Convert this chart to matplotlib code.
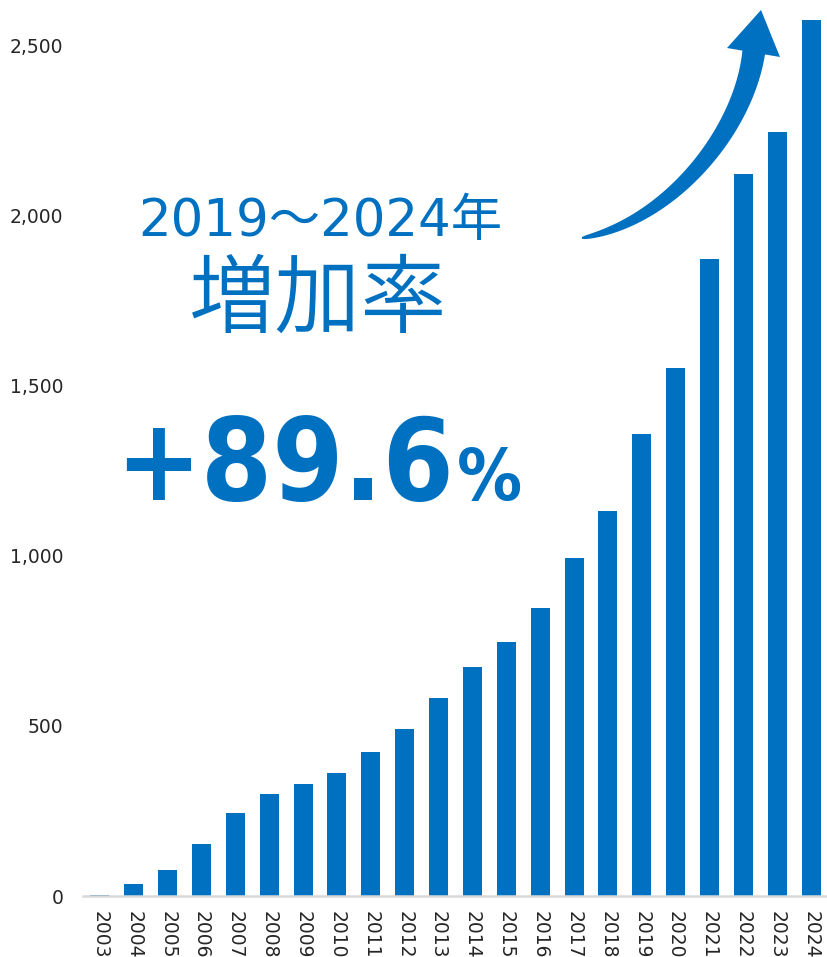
import numpy as np
import matplotlib.pyplot as plt
from matplotlib.patches import Polygon
from matplotlib.transforms import Affine2D

years = [str(y) for y in range(2003, 2025)]
values = [3, 35, 76, 153, 244, 300, 329, 362, 424, 491, 582, 674,
          747, 847, 994, 1132, 1359, 1553, 1874, 2124, 2247, 2577]
yticks = [0, 500, 1000, 1500, 2000, 2500]
ytick_labels = ['0', '500', '1,000', '1,500', '2,000', '2,500']

blue = '#0070C0'
W, H = 828, 957

plt.rcParams['font.family'] = ['DejaVu Sans']
fig = plt.figure(figsize=(W / 100, H / 100), dpi=100)
ax = fig.add_axes([83 / W, 1 - 896 / H, 745 / W, 896 / H])

x = np.arange(len(years))
ax.bar(x, values, width=0.56, color=blue, zorder=2)
ax.set_xlim(-0.5, len(years) - 0.5)
ax.set_ylim(0, 2635)
ax.set_xticks(x)
ax.set_xticklabels(years, rotation=-90, fontsize=13.5, color='#262626')
ax.set_yticks(yticks)
ax.set_yticklabels(ytick_labels, fontsize=13.5, color='#262626')
ax.tick_params(axis='both', length=0)
ax.tick_params(axis='y', pad=14)
ax.tick_params(axis='x', pad=11)
for s in ['top', 'right', 'left']:
    ax.spines[s].set_visible(False)
ax.spines['bottom'].set_color('#d9d9d9')
ax.spines['bottom'].set_linewidth(1.8)

# headline text, placed in pixel coords
px = Affine2D().scale(1 / W, -1 / H).translate(0, 1) + fig.transFigure
mixed = ['DejaVu Sans', 'Noto Sans CJK JP']
cjk = ['Noto Sans CJK JP', 'DejaVu Sans']
fig.text(320, 222, '2019～2024年', transform=px, ha='center', va='center',
         fontsize=37, color=blue, family=mixed)
fig.text(318, 301, '増加率', transform=px, ha='center', va='center',
         fontsize=62, fontweight=350, color=blue, family=cjk)
fig.text(115, 500, '+89.6', transform=px, ha='left', va='baseline',
         fontsize=82, fontweight='bold', fontstretch='condensed', color=blue)
fig.text(457, 500, '%', transform=px, ha='left', va='baseline',
         fontsize=52, fontweight='bold', fontstretch='condensed', color=blue)

# curved growth arrow
t = np.linspace(0, 1, 80)[:, None]
p0, p1, p2, p3 = [np.array(p) for p in [(582, 238), (670, 222), (745, 130), (754, 50)]]
c = (1 - t) ** 3 * p0 + 3 * (1 - t) ** 2 * t * p1 + 3 * (1 - t) * t ** 2 * p2 + t ** 3 * p3
d = np.gradient(c, axis=0)
n = np.column_stack([-d[:, 1], d[:, 0]])
n /= np.linalg.norm(n, axis=1)[:, None]
w = (1.0 + 10.5 * t[:, 0] ** 0.6)[:, None]
body = np.vstack([c + n * w, (c - n * w)[::-1]])
ax_arrow = fig.add_axes([0, 0, 1, 1], zorder=5)
ax_arrow.set_xlim(0, W)
ax_arrow.set_ylim(H, 0)
ax_arrow.axis('off')
ax_arrow.add_patch(Polygon(body, closed=True, color=blue, lw=0))
ax_arrow.add_patch(Polygon([(761, 10), (727, 48), (780, 57)], closed=True, color=blue, lw=0))

fig.savefig('out.png', dpi=100)
